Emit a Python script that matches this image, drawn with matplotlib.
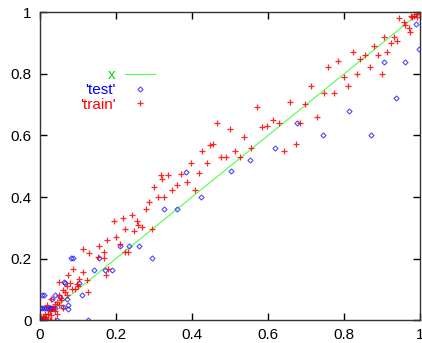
import matplotlib
matplotlib.use("Agg")
import matplotlib.pyplot as plt

# values
train_x = [0.945, 0.975, 0.98, 0.985, 0.99, 0.995, 1.0, 0.992, 0.957, 0.961, 0.972, 0.974,
           0.906, 0.931, 0.939, 0.924, 0.878, 0.823, 0.855, 0.889, 0.913, 0.843, 0.785, 0.759,
           0.868, 0.834, 0.899, 0.799, 0.712, 0.811, 0.747, 0.773, 0.659, 0.698, 0.570, 0.729,
           0.614, 0.466, 0.630, 0.685, 0.584, 0.597, 0.501, 0.538, 0.454, 0.673, 0.513, 0.555,
           0.643, 0.476, 0.489, 0.526, 0.397, 0.426, 0.439, 0.447, 0.318, 0.336, 0.371, 0.418,
           0.32, 0.360, 0.301, 0.348, 0.310, 0.327, 0.386, 0.408, 0.287, 0.278, 0.241, 0.218,
           0.195, 0.254, 0.259, 0.269, 0.247, 0.224, 0.199, 0.177, 0.154, 0.211, 0.232, 0.223,
           0.294, 0.130, 0.114, 0.168, 0.153, 0.169, 0.180, 0.174, 0.112, 0.088, 0.103, 0.074,
           0.124, 0.097, 0.127, 0.092, 0.051, 0.061, 0.070, 0.028, 0.039, 0.054, 0.018,
           0.005, 0.01, 0.015, 0.02, 0.025, 0.03, 0.035, 0.04, 0.045, 0.05, 0.055, 0.06, 0.065,
           0.012, 0.008, 0.02, 0.03, 0.0, 0.045, 0.05, 0.07, 0.08, 0.085, 0.10, 0.04, 0.025]
train_y = [0.981, 0.99, 0.985, 0.99, 0.995, 1.0, 1.0, 0.985, 0.970, 0.959, 0.949, 0.938,
           0.921, 0.919, 0.908, 0.900, 0.891, 0.871, 0.862, 0.862, 0.871, 0.849, 0.841, 0.822,
           0.822, 0.800, 0.800, 0.791, 0.761, 0.761, 0.739, 0.739, 0.710, 0.701, 0.694, 0.659,
           0.650, 0.642, 0.640, 0.640, 0.629, 0.631, 0.620, 0.596, 0.571, 0.571, 0.551, 0.558,
           0.551, 0.531, 0.531, 0.531, 0.510, 0.551, 0.510, 0.569, 0.471, 0.471, 0.476, 0.479,
           0.46, 0.440, 0.433, 0.422, 0.400, 0.400, 0.449, 0.422, 0.384, 0.360, 0.340, 0.332,
           0.321, 0.321, 0.308, 0.302, 0.288, 0.295, 0.270, 0.259, 0.241, 0.248, 0.221, 0.221,
           0.295, 0.219, 0.232, 0.221, 0.205, 0.202, 0.167, 0.145, 0.156, 0.167, 0.134, 0.145,
           0.129, 0.118, 0.091, 0.102, 0.124, 0.097, 0.082, 0.069, 0.053, 0.065, 0.050,
           0.0, 0.005, 0.01, 0.02, 0.03, 0.015, 0.04, 0.03, 0.06, 0.05, 0.07, 0.04, 0.09,
           0.02, 0.01, 0.0, 0.0, 0.01, 0.02, 0.08, 0.11, 0.12, 0.10, 0.11, 0.0, 0.0]

test_x = [0.989, 0.998, 0.906, 0.961, 0.938, 0.812, 0.676, 0.745, 0.871, 0.618, 0.553, 0.503,
          0.384, 0.424, 0.326, 0.360, 0.234, 0.261, 0.211, 0.294, 0.081, 0.088, 0.156, 0.142,
          0.171, 0.189, 0.066, 0.102, 0.111, 0.074, 0.061, 0.004, 0.011,
          0.0, 0.005, 0.01, 0.015, 0.02, 0.025, 0.03, 0.035, 0.04,
          0.039, 0.053, 0.031, 0.046, 0.127, 0.0, 0.005, 0.01, 0.0, 0.015, 0.070, 0.064, 0.073]
test_y = [0.963, 0.880, 0.840, 0.840, 0.721, 0.680, 0.640, 0.601, 0.601, 0.560, 0.520, 0.485,
          0.482, 0.400, 0.360, 0.360, 0.241, 0.241, 0.241, 0.202, 0.202, 0.202, 0.202, 0.162,
          0.162, 0.162, 0.121, 0.121, 0.080, 0.037, 0.042, 0.080, 0.080,
          0.04, 0.04, 0.04, 0.04, 0.04, 0.04, 0.04, 0.04, 0.04,
          0.080, 0.075, 0.069, 0.0, 0.0, 0.0, 0.0, 0.005, 0.01, 0.0, 0.067, 0.125, 0.049]

line_x = [0.0, 1.0]
ticks = [0, 0.2, 0.4, 0.6, 0.8, 1]
tick_labels = ["0", "0.2", "0.4", "0.6", "0.8", "1"]

plt.rcParams['font.family'] = ['Liberation Sans', 'DejaVu Sans']

fig = plt.figure(figsize=(4.22, 3.43), dpi=100)
ax = fig.add_axes([0.0948, 0.067, 0.9005, 0.8966])

ax.plot(line_x, line_x, color='#00ff00', lw=0.8, alpha=0.7, label='x')
ax.plot(test_x, test_y, ls='none', marker='D', ms=2.6, mfc='none', mec='#0000ff',
        mew=0.8, alpha=0.7, label="'test'")
ax.plot(train_x, train_y, ls='none', marker='+', ms=5, mec='#ff0000', mew=0.9,
        alpha=0.85, label="'train'")

ax.set_xlim(0, 1)
ax.set_ylim(0, 1)
ax.set_xticks(ticks)
ax.set_xticklabels(tick_labels)
ax.set_yticks(ticks)
ax.set_yticklabels(tick_labels)
ax.tick_params(direction='in', top=True, right=True, length=5, width=1, labelsize=11,
               pad=6)
for s in ax.spines.values():
    s.set_linewidth(1)
    s.set_color('#333333')

leg = ax.legend(loc='center right', bbox_to_anchor=(0.303, 0.748), frameon=False,
                markerfirst=False, labelcolor='linecolor', handlelength=2.0,
                handletextpad=0.6, labelspacing=0.05, borderpad=0, borderaxespad=0,
                fontsize=11)
for t, c in zip(leg.get_texts(), ['#00dd00', '#0000ff', '#ff0000']):
    t.set_color(c)
    t.set_ha('right')

fig.savefig('out.png', dpi=100)
